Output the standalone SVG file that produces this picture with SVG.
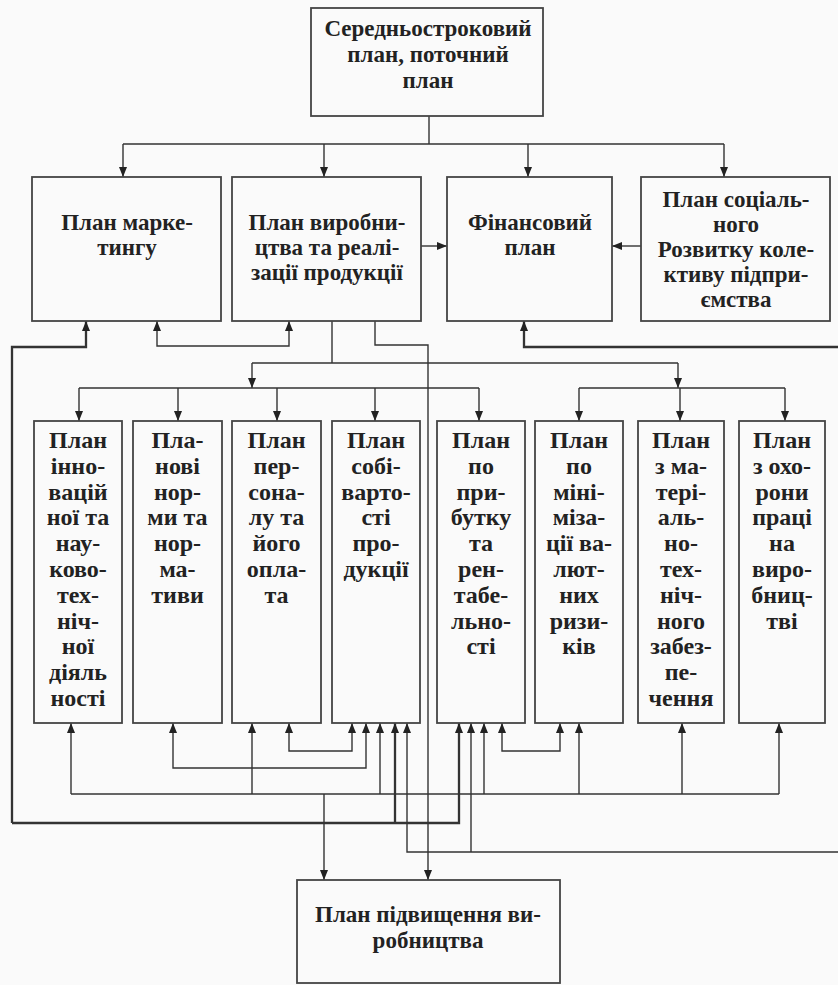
<svg xmlns="http://www.w3.org/2000/svg" width="838" height="985" viewBox="0 0 838 985">
<defs>
<marker id="ah" viewBox="0 0 10 10" refX="10" refY="5" markerWidth="10" markerHeight="10" markerUnits="userSpaceOnUse" orient="auto-start-reverse"><path d="M0,1 L10,5 L0,9 z" fill="#222"/></marker>
<style>
.box{fill:none;stroke:#444;stroke-width:1.8}
.t{font-family:'Liberation Serif','DejaVu Serif','Times New Roman',serif;font-weight:bold;font-size:23px;fill:#222;text-anchor:middle}
.t3{font-size:24px}
.c{fill:none;stroke:#333;stroke-width:1.4}
.a{marker-end:url(#ah)}
.b{marker-start:url(#ah);marker-end:url(#ah)}
.k{stroke-width:2.3}
</style>
</defs>
<rect width="838" height="985" fill="#fafafa"/>
<g id="connectors">
<path class="c" d="M429,116 V144 M123,144 H724"/>
<path class="c a" d="M123,144 V177"/>
<path class="c a" d="M324,144 V177"/>
<path class="c a" d="M528,144 V177"/>
<path class="c a" d="M724,144 V177"/>
<path class="c a" d="M421,246 H447"/>
<path class="c a" d="M641,246 H612"/>
<path class="c b" d="M157,321 V346 H289 V321"/>
<path class="c k a" d="M12,823 V347 H86 V321"/>
<path class="c k a" d="M12,823 H459 V723"/>
<path class="c k a" d="M395,823 V723"/>
<path class="c" d="M332,321 V363 M252,363 H678"/>
<path class="c a" d="M252,363 V388"/>
<path class="c a" d="M678,363 V388"/>
<path class="c" d="M79,388 H479 M579,388 H785"/>
<path class="c a" d="M79,388 V421"/>
<path class="c a" d="M178,388 V421"/>
<path class="c a" d="M277,388 V421"/>
<path class="c a" d="M375,388 V421"/>
<path class="c a" d="M479,388 V421"/>
<path class="c a" d="M579,388 V421"/>
<path class="c a" d="M680,388 V421"/>
<path class="c a" d="M785,388 V421"/>
<path class="c a" d="M375,321 V345 H428 V880"/>
<path class="c k a" d="M838,347 H524 V321"/>
<path class="c a" d="M838,852 H407 V723"/>
<path class="c a" d="M471,852 V723"/>
<path class="c" d="M71,794 H779"/>
<path class="c a" d="M71,794 V723"/>
<path class="c a" d="M252,794 V723"/>
<path class="c a" d="M380,794 V723" stroke="#777"/>
<path class="c a" d="M484,794 V723"/>
<path class="c a" d="M579,794 V723"/>
<path class="c a" d="M682,794 V723"/>
<path class="c a" d="M779,794 V723"/>
<path class="c a" d="M324,794 V880"/>
<path class="c b" d="M173,723 V768 H366 V723"/>
<path class="c b" d="M289,723 V751 H352 V723"/>
<path class="c b" d="M502,723 V751 H560 V723"/>
</g>
<g id="n-top">
<rect class="box" x="311" y="8" width="232" height="108"/>
<text class="t" x="428" y="36">Середньостроковий</text>
<text class="t" x="428" y="62">план, поточний</text>
<text class="t" x="428" y="88">план</text>
</g>
<g id="n-marketing">
<rect class="box" x="32" y="177" width="189" height="144"/>
<text class="t" x="127" y="230">План марке-</text>
<text class="t" x="127" y="255">тингу</text>
</g>
<g id="n-production">
<rect class="box" x="232" y="177" width="189" height="144"/>
<text class="t" x="327" y="230">План виробни-</text>
<text class="t" x="327" y="255">цтва та реалі-</text>
<text class="t" x="327" y="280">зації продукції</text>
</g>
<g id="n-finance">
<rect class="box" x="447" y="177" width="165" height="144"/>
<text class="t" x="530" y="230">Фінансовий</text>
<text class="t" x="530" y="255">план</text>
</g>
<g id="n-social">
<rect class="box" x="641" y="177" width="189" height="144"/>
<text class="t" x="736" y="207">План соціаль-</text>
<text class="t" x="736" y="232">ного</text>
<text class="t" x="736" y="257">Розвитку коле-</text>
<text class="t" x="736" y="282">ктиву підпри-</text>
<text class="t" x="736" y="307">ємства</text>
</g>
<g id="n-innov">
<rect class="box" x="34" y="421" width="88" height="302"/>
<text class="t t3" x="78"><tspan x="78" y="448">План</tspan><tspan x="78" y="474">інно-</tspan><tspan x="78" y="500">вацій</tspan><tspan x="78" y="525">ної та</tspan><tspan x="78" y="551">нау-</tspan><tspan x="78" y="577">ково-</tspan><tspan x="78" y="603">тех-</tspan><tspan x="78" y="629">ніч-</tspan><tspan x="78" y="654">ної</tspan><tspan x="78" y="680">діяль</tspan><tspan x="78" y="706">ності</tspan></text>
</g>
<g id="n-norms">
<rect class="box" x="133" y="421" width="89" height="302"/>
<text class="t t3" x="177.5"><tspan x="177.5" y="448">Пла-</tspan><tspan x="177.5" y="474">нові</tspan><tspan x="177.5" y="500">нор-</tspan><tspan x="177.5" y="525">ми та</tspan><tspan x="177.5" y="551">нор-</tspan><tspan x="177.5" y="577">ма-</tspan><tspan x="177.5" y="603">тиви</tspan></text>
</g>
<g id="n-personnel">
<rect class="box" x="232" y="421" width="89" height="302"/>
<text class="t t3" x="276.5"><tspan x="276.5" y="448">План</tspan><tspan x="276.5" y="474">пер-</tspan><tspan x="276.5" y="500">сона-</tspan><tspan x="276.5" y="525">лу та</tspan><tspan x="276.5" y="551">його</tspan><tspan x="276.5" y="577">опла-</tspan><tspan x="276.5" y="603">та</tspan></text>
</g>
<g id="n-cost">
<rect class="box" x="332" y="421" width="88" height="302"/>
<text class="t t3" x="376"><tspan x="376" y="448">План</tspan><tspan x="376" y="474">собі-</tspan><tspan x="376" y="500">варто-</tspan><tspan x="376" y="525">сті</tspan><tspan x="376" y="551">про-</tspan><tspan x="376" y="577">дукції</tspan></text>
</g>
<g id="n-profit">
<rect class="box" x="437" y="421" width="88" height="302"/>
<text class="t t3" x="481"><tspan x="481" y="448">План</tspan><tspan x="481" y="474">по</tspan><tspan x="481" y="500">при-</tspan><tspan x="481" y="525">бутку</tspan><tspan x="481" y="551">та</tspan><tspan x="481" y="577">рен-</tspan><tspan x="481" y="603">табе-</tspan><tspan x="481" y="629">льно-</tspan><tspan x="481" y="654">сті</tspan></text>
</g>
<g id="n-currency">
<rect class="box" x="535" y="421" width="88" height="302"/>
<text class="t t3" x="579"><tspan x="579" y="448">План</tspan><tspan x="579" y="474">по</tspan><tspan x="579" y="500">міні-</tspan><tspan x="579" y="525">міза-</tspan><tspan x="579" y="551">ції ва-</tspan><tspan x="579" y="577">лют-</tspan><tspan x="579" y="603">них</tspan><tspan x="579" y="629">ризи-</tspan><tspan x="579" y="654">ків</tspan></text>
</g>
<g id="n-material">
<rect class="box" x="638" y="421" width="86" height="302"/>
<text class="t t3" x="681"><tspan x="681" y="448">План</tspan><tspan x="681" y="474">з ма-</tspan><tspan x="681" y="500">тері-</tspan><tspan x="681" y="525">аль-</tspan><tspan x="681" y="551">но-</tspan><tspan x="681" y="577">тех-</tspan><tspan x="681" y="603">ніч-</tspan><tspan x="681" y="629">ного</tspan><tspan x="681" y="654">забез-</tspan><tspan x="681" y="680">пе-</tspan><tspan x="681" y="706">чення</tspan></text>
</g>
<g id="n-safety">
<rect class="box" x="739" y="421" width="86" height="302"/>
<text class="t t3" x="782"><tspan x="782" y="448">План</tspan><tspan x="782" y="474">з охо-</tspan><tspan x="782" y="500">рони</tspan><tspan x="782" y="525">праці</tspan><tspan x="782" y="551">на</tspan><tspan x="782" y="577">виро-</tspan><tspan x="782" y="603">бниц-</tspan><tspan x="782" y="629">тві</tspan></text>
</g>
<g id="n-improve">
<rect class="box" x="297" y="880" width="263" height="103"/>
<text class="t" x="428" y="922">План підвищення ви-</text>
<text class="t" x="428" y="948">робництва</text>
</g>
</svg>
